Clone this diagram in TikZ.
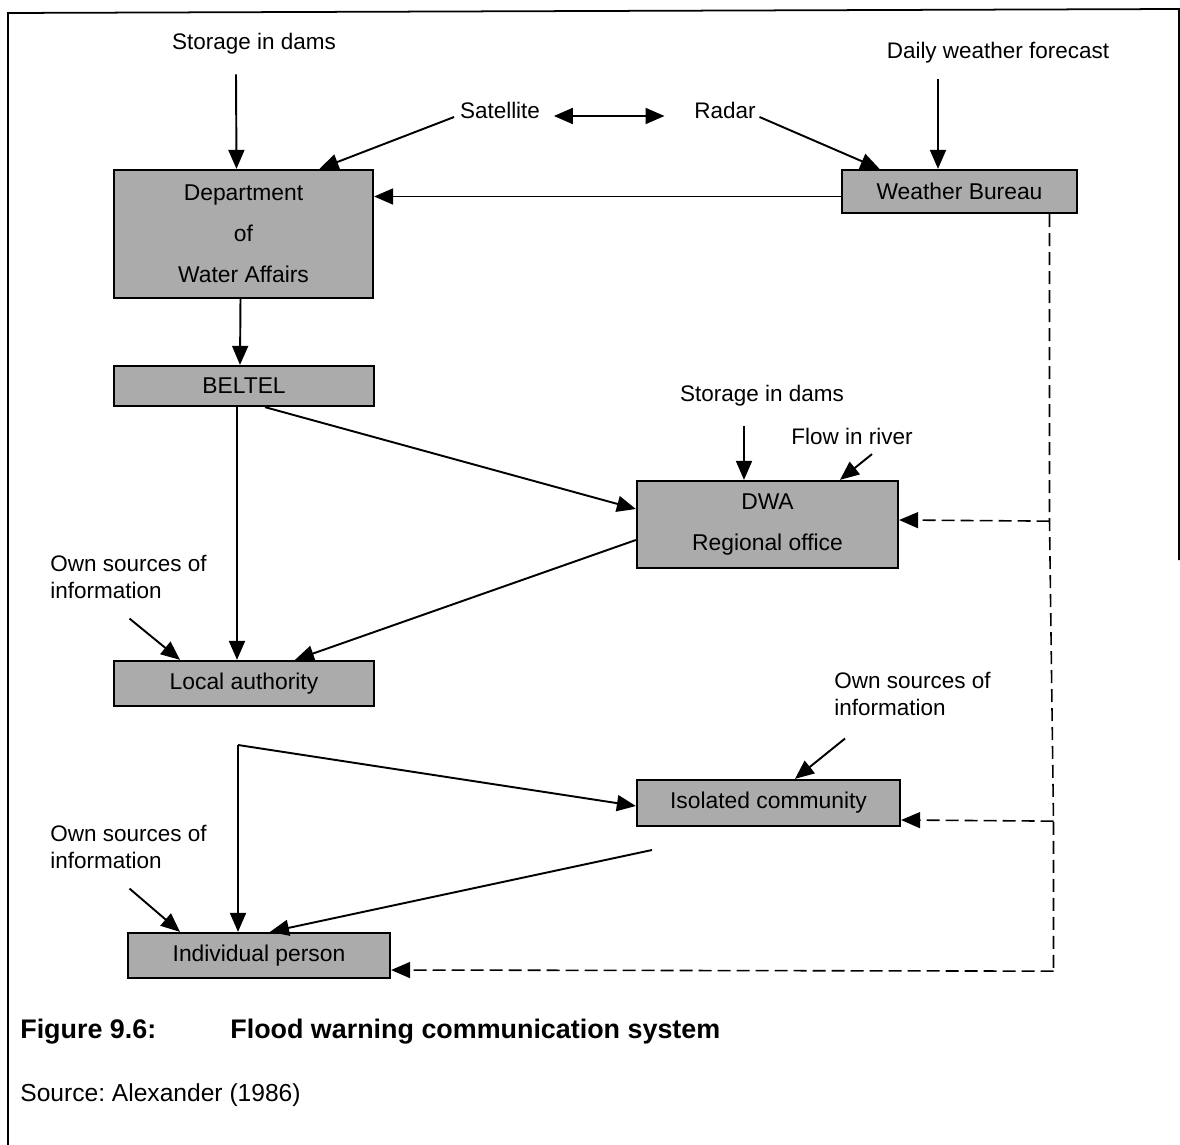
\documentclass[tikz,border=0pt]{standalone}
\usepackage{fontspec}
\setmainfont{Liberation Sans}
\usepackage{tikz}
\usetikzlibrary{arrows.meta,positioning,calc}
\newcommand{\lblfont}{\fontsize{12.8}{15.3}\selectfont}
\newcommand{\boxfont}{\fontsize{13}{23.2}\selectfont}

\begin{document}
\begin{tikzpicture}[x=0.02cm,y=-0.02cm,
  unit/.style={draw,line width=1.3pt,fill=black!33,align=center,
               inner sep=0pt,font=\boxfont},
  src/.style={align=left,font=\lblfont,inner sep=2pt},
  arr/.style={-{Triangle[length=0.38cm,width=0.32cm]},line width=1.1pt},
  arrboth/.style={{Triangle[length=0.38cm,width=0.32cm]}-{Triangle[length=0.38cm,width=0.32cm]},line width=1.1pt},
  dsh/.style={line width=0.9pt,dash pattern=on 0.26cm off 0.12cm},
  dsharr/.style={dsh,-{Triangle[length=0.38cm,width=0.32cm]}}
]
  \useasboundingbox (0,0) rectangle (1180,1145);
  % frame of the scanned page
  \draw[line width=1pt] (8,1145) -- (8,13) -- (1179,9) -- (1179,560);

  % organisations
  \node[unit,minimum width=5.18cm,minimum height=2.56cm] (dowa)   at (243.5,234)   {Department\\ of\\ Water Affairs};
  \node[unit,minimum width=4.70cm,minimum height=0.86cm] (wb)     at (959.5,191.5) {Weather Bureau};
  \node[unit,minimum width=5.20cm,minimum height=0.80cm] (beltel) at (244,386)     {BELTEL};
  \node[unit,minimum width=5.22cm,minimum height=1.74cm] (dwareg) at (767.5,524.5) {DWA\\ Regional office};
  \node[unit,minimum width=5.20cm,minimum height=0.90cm] (local)  at (244,683.5)   {Local authority};
  \node[unit,minimum width=5.26cm,minimum height=0.92cm] (isol)   at (768.5,803)   {Isolated community};
  \node[unit,minimum width=5.24cm,minimum height=0.90cm] (indiv)  at (259,955.5)   {Individual person};

  % information sources
  \node[src] (sto1)  at (254,44)    {Storage in dams};
  \node[src] (daily) at (998,53)    {Daily weather forecast};
  \node[src] (sat)   at (500,110)   {Satellite};
  \node[src] (radar) at (725,110)   {Radar};
  \node[src] (sto2)  at (762,396)   {Storage in dams};
  \node[src] (flow)  at (852,436)   {Flow in river};
  \node[src] (own1)  at (128.5,577) {Own sources of\\ information};
  \node[src] (own2)  at (912.5,694) {Own sources of\\ information};
  \node[src] (own3)  at (128.5,847) {Own sources of\\ information};

  \draw[arr] ($(sto1.south)+(-18,16)$) -- ($(dowa.north)+(-7,0)$);
  \draw[arr] ($(sat.west)+(-2,7)$) -- ($(dowa.north)+(76,0)$);
  \draw[arrboth] ($(sat.east)+(10,6)$) -- ($(radar.west)+(-26,6)$);
  \draw[arr] ($(radar.east)+(0,7)$) -- ($(wb.north)+(-80,0)$);
  \draw[arr] ($(daily.south)+(-60,12)$) -- ($(wb.north)+(-21.5,0)$);
  \coordinate (wbout) at ($(wb.west)+(0,5)$);
  \draw[arr] (wbout) -- (wbout -| dowa.east);
  \draw[arr] ($(dowa.south)+(-3,0)$) -- ($(beltel.north)+(-4,0)$);
  \draw[arr] ($(beltel.south)+(-7,0)$) -- ($(local.north)+(-7,0)$);
  \draw[arr] ($(beltel.south)+(21,0)$) -- ($(dwareg.west)+(0,-15.5)$);
  \draw[arr] ($(dwareg.west)+(0,15.5)$) -- ($(local.north)+(51,0)$);
  \draw[arr] ($(own1.south)+(1,16)$) -- ($(local.north)+(-64,0)$);
  \draw[arr] ($(sto2.south)+(-18,16)$) -- ($(dwareg.north)+(-23.5,0)$);
  \draw[arr] ($(flow.south)+(20,6)$) -- ($(dwareg.north)+(72.5,0)$);
  \draw[arr] ($(own2.south)+(-67.5,19)$) -- ($(isol.north)+(26.5,0)$);

  % lower part
  \coordinate (fork) at (238,745);
  \coordinate (isolout) at (652,850);
  \draw[arr] (fork) -- ($(isol.west)+(0,3)$);
  \draw[arr] (fork) -- (fork |- indiv.north);
  \draw[arr] (isolout) -- ($(indiv.north)+(11,0)$);
  \draw[arr] ($(own3.south)+(1,16)$) -- ($(indiv.north)+(-79,0)$);

  % dashed warning line from the Weather Bureau
  \coordinate (bus0) at ($(wb.south)+(90,0)$);
  \coordinate (bus1) at ($(bus0)+(0,307)$);
  \coordinate (bus2) at ($(bus0)+(4,607)$);
  \coordinate (bus3) at ($(bus0)+(4,757)$);
  \draw[dsh] (bus0) -- (bus1) -- (bus2) -- (bus3);
  \draw[dsharr] (bus1) -- ($(dwareg.east)+(0,-4.5)$);
  \draw[dsharr] (bus2) -- ($(isol.east)+(0,17)$);
  \draw[dsharr] (bus3) -- ($(indiv.east)+(0,14.5)$);

  % caption
  \node[anchor=base west,inner sep=0pt,font=\fontsize{15.3}{18}\selectfont\bfseries] (fig) at (20,1038) {Figure 9.6:};
  \node[anchor=base west,inner sep=0pt,font=\fontsize{15.3}{18}\selectfont\bfseries] (title) at (230,1038) {Flood warning communication system};
  \node[anchor=base west,inner sep=0pt,font=\fontsize{14}{17}\selectfont] (source) at (20,1101) {Source:\ Alexander (1986)};
\end{tikzpicture}
\end{document}
